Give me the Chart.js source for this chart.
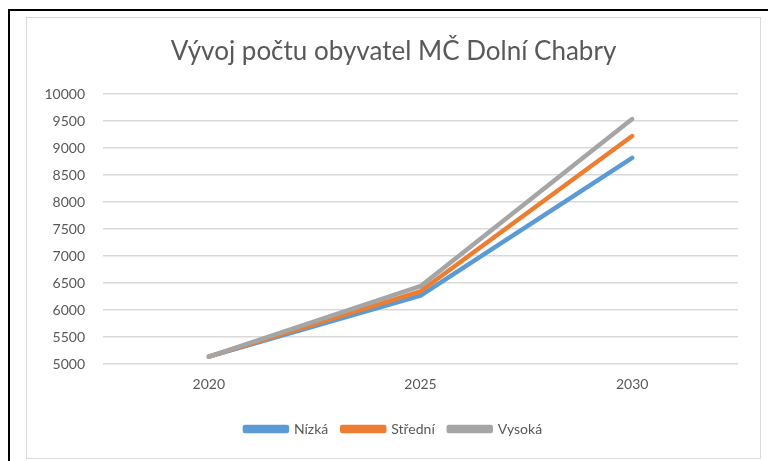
<!DOCTYPE html>
<html>
<head>
<meta charset="utf-8">
<script src="https://cdn.jsdelivr.net/npm/chart.js@4"></script>
<style>
  body { margin: 0; background: #fff; width: 768px; height: 461px; overflow: hidden; position: relative; }
  #frame { position: absolute; left: 8px; top: 9px; right: 0; bottom: 0; border-left: 2px solid #000; border-top: 2px solid #000; }
  #box { position: absolute; left: 26px; top: 17px; width: 733px; height: 440px; border: 1px solid #d9d9d9; }
</style>
</head>
<body>
<div id="frame"></div>
<div id="box"><canvas id="line-chart" width="733" height="440"></canvas></div>
<script>
// data
var years = ["2020", "2025", "2030"];
var nizka = [5140, 6270, 8820];
var stredni = [5140, 6350, 9225];
var vysoka = [5140, 6445, 9540];
var yTicks = [5000, 10000, 500]; // min, max, step

document.addEventListener("DOMContentLoaded", function () {
  var ctx = document.getElementById("line-chart").getContext("2d");
  var font = "Lato, 'Open Sans', sans-serif";
  var chart = new Chart(ctx, {
    type: "line",
    data: {
      labels: years,
      datasets: [
        { label: "Nízká", data: nizka, borderColor: "#5B9BD5", backgroundColor: "#5B9BD5", order: 2 },
        { label: "Střední", data: stredni, borderColor: "#ED7D31", backgroundColor: "#ED7D31", order: 1 },
        { label: "Vysoká", data: vysoka, borderColor: "#A5A5A5", backgroundColor: "#A5A5A5", order: 0 },
      ],
    },
    options: {
      responsive: false,
      animation: false,
      elements: {
        line: { borderWidth: 4.5, borderCapStyle: "round", borderJoinStyle: "round", tension: 0 },
        point: { radius: 0, hoverRadius: 0 },
      },
      layout: { padding: { left: 0, right: 0, top: 18, bottom: 12 } },
      plugins: {
        title: {
          display: true,
          text: "Vývoj počtu obyvatel MČ Dolní Chabry",
          color: "#595959",
          font: { family: font, size: 26, weight: "normal" },
          padding: { top: 0, bottom: 27 },
        },
        legend: {
          position: "bottom",
          labels: {
            color: "#595959",
            font: { family: font, size: 14 },
            boxWidth: 42,
            boxHeight: 4,
            padding: 14,
            sort: function (a, b) { return a.datasetIndex - b.datasetIndex; },
          },
        },
        tooltip: { enabled: false },
      },
      scales: {
        x: {
          offset: true,
          grid: { display: false },
          border: { display: false },
          ticks: { color: "#595959", font: { family: font, size: 14 }, padding: 4 },
          afterFit: function (scale) { scale.height += 11; },
        },
        y: {
          min: yTicks[0],
          max: yTicks[1],
          ticks: {
            stepSize: yTicks[2],
            color: "#595959",
            font: { family: font, size: 14 },
            padding: 18,
            callback: function (v) { return String(v); },
          },
          grid: { color: "#d9d9d9", drawTicks: false, lineWidth: 1.5 },
          border: { display: false },
          afterFit: function (scale) { scale.width = 76; },
        },
        // empty right margin so the title centres like the reference
        yRight: {
          position: "right",
          grid: { display: false },
          ticks: { display: false },
          border: { display: false },
          afterFit: function (scale) { scale.width = 22; },
        },
      },
    },
  });
});
</script>
</body>
</html>
